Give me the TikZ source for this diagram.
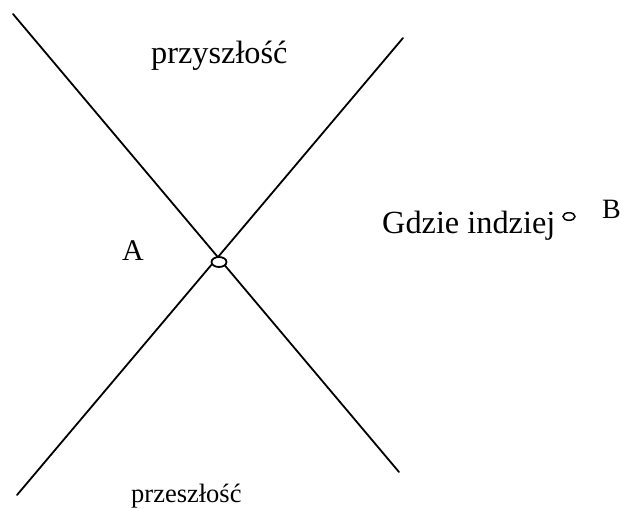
\documentclass[tikz,border=0pt]{standalone}
\usepackage{fontspec}
\setmainfont{Liberation Serif}
\tikzset{
  worldline/.style={line width=1.8pt, line cap=round},
  lbl/.style={inner sep=0pt, anchor=base west, font=\fontsize{30}{34}\selectfont},
  lblbig/.style={inner sep=0pt, anchor=base west, font=\fontsize{32.3}{36}\selectfont},
  lblsmall/.style={inner sep=0pt, anchor=base west, font=\fontsize{26.5}{30}\selectfont}
}
\begin{document}
\begin{tikzpicture}[x=1pt,y=-1pt]
\useasboundingbox (0,0) rectangle (624,509);
\coordinate (l1s) at (13,14);
\coordinate (l1e) at (399,472);
\coordinate (l2s) at (403,38);
\coordinate (l2e) at (17,495);
\draw[worldline] (l1s) -- (l1e);
\draw[worldline] (l2s) -- (l2e);
\draw[line width=1.8pt, fill=white] (219,262) ellipse [x radius=7.5pt, y radius=5pt];
\draw[line width=1.5pt] (569,216.5) ellipse [x radius=6pt, y radius=3.8pt];
\node[lblbig] (fut) at (151,63) {przyszłość};
\node[lblsmall] (past) at (131,502) {przeszłość};
\node[lbl] (A) at (122,260) {A};
\node[lblbig] (gi) at (382,233) {Gdzie indziej};
\node[lbl, font=\fontsize{28}{30}\selectfont] (B) at (602,218) {B};
\end{tikzpicture}
\end{document}
